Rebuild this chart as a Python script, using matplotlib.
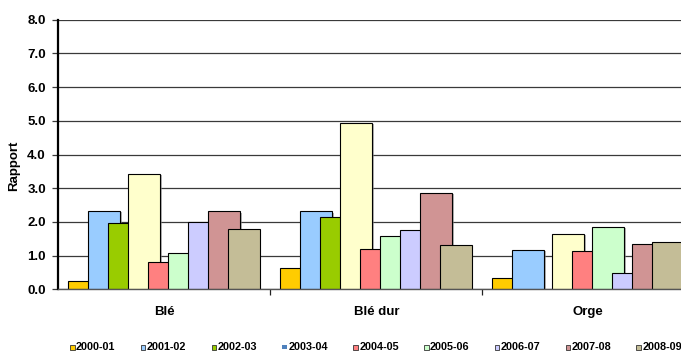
import matplotlib
matplotlib.use("Agg")
import matplotlib.pyplot as plt
import matplotlib.patheffects as pe
from matplotlib.patches import Rectangle
import numpy as np

plt.rcParams['font.family'] = ['Liberation Sans', 'DejaVu Sans']
plt.rcParams['font.weight'] = 'bold'

# --- Data: ratio per crop and campaign ---
crops = ['Blé', 'Blé dur', 'Orge']
seasons = ['2000-01', '2001-02', '2002-03', '2003-04', '2004-05',
           '2005-06', '2006-07', '2007-08', '2008-09']
ble = [0.25, 2.33, 1.96, 3.41, 0.81, 1.07, 1.99, 2.31, 1.78]
ble_dur = [0.63, 2.31, 2.16, 4.93, 1.20, 1.57, 1.76, 2.85, 1.31]
orge = [0.34, 1.17, np.nan, 1.63, 1.13, 1.86, 0.48, 1.34, 1.39]

bar_colors = ['#FFCC00', '#99CCFF', '#99CC00', '#FFFFCC', '#FF8080',
              '#CCFFCC', '#CCCCFF', '#D09494', '#C4BD97']
# the 2003-04 key swatch is a plain blue square
swatch_colors = bar_colors[:3] + ['#4F81BD'] + bar_colors[4:]

values = np.array([ble, ble_dur, orge])

W, H = 681, 352
fig = plt.figure(figsize=(W / 100, H / 100), dpi=100)
# plot area runs past the right edge of the canvas
ax = fig.add_axes([58.3 / W, 1 - 289.3 / H, 636 / W, 269.6 / H])

offset, step, width = 0.048, 0.0939, 0.151
shadow = [pe.SimplePatchShadow(offset=(1.2, -0.8), shadow_rgbFace='#808080', alpha=0.6),
          pe.Normal()]
for j, season in enumerate(seasons):
    for i in range(len(crops)):
        v = values[i, j]
        if np.isnan(v):
            continue
        ax.bar(i + offset + j * step, v, width=width, align='edge',
               color=bar_colors[j], edgecolor='black', linewidth=0.8,
               zorder=3 + j, path_effects=shadow)

ax.set_xlim(0, 3)
ax.set_ylim(0, 8)
ax.set_yticks(np.arange(0, 8.1, 1.0))
ax.set_yticklabels([f'{v:.1f}' for v in np.arange(0, 8.1, 1.0)],
                   fontsize=9.5, fontweight='bold')
ax.yaxis.grid(True, color='#3a3a3a', linewidth=0.9, zorder=1)
ax.set_axisbelow(True)
ax.tick_params(axis='y', length=4, width=0.9, color='#3a3a3a', pad=5)

ax.set_xticks([0.5, 1.5, 2.5])
ax.set_xticklabels(crops, fontsize=9.5, fontweight='bold')
ax.tick_params(axis='x', which='major', length=0, pad=12)
ax.set_xticks([1, 2, 3], minor=True)
ax.tick_params(axis='x', which='minor', length=4, width=0.9, color='#222222')

for s in ['top', 'right']:
    ax.spines[s].set_visible(False)
ax.spines['left'].set_linewidth(1.6)
ax.spines['left'].set_color('black')
ax.spines['bottom'].set_linewidth(1.0)
ax.spines['bottom'].set_color('#555555')
ax.spines['left'].set_zorder(20)
ax.spines['bottom'].set_zorder(20)

fig.text(14 / W, 1 - 166 / H, 'Rapport', rotation=90, ha='center', va='center',
         fontsize=9.5, fontweight='bold')

# --- Key along the bottom ---
ky = 1 - 347 / H
for j, season in enumerate(seasons):
    x0 = 70 + j * 70.8
    if j == 3:
        fig.patches.append(Rectangle((x0 / W, ky - 2.2 / H), 4.5 / W, 4.5 / H,
                                     transform=fig.transFigure,
                                     facecolor=swatch_colors[j], edgecolor='none'))
    else:
        fig.patches.append(Rectangle((x0 / W, ky - 2.5 / H), 4.5 / W, 5 / H,
                                     transform=fig.transFigure,
                                     facecolor=swatch_colors[j], edgecolor='#333333',
                                     linewidth=0.6))
    fig.text((x0 + 6) / W, ky, season, ha='left', va='center',
             fontsize=7.8, fontweight='bold')

fig.savefig('out.png', dpi=100)
